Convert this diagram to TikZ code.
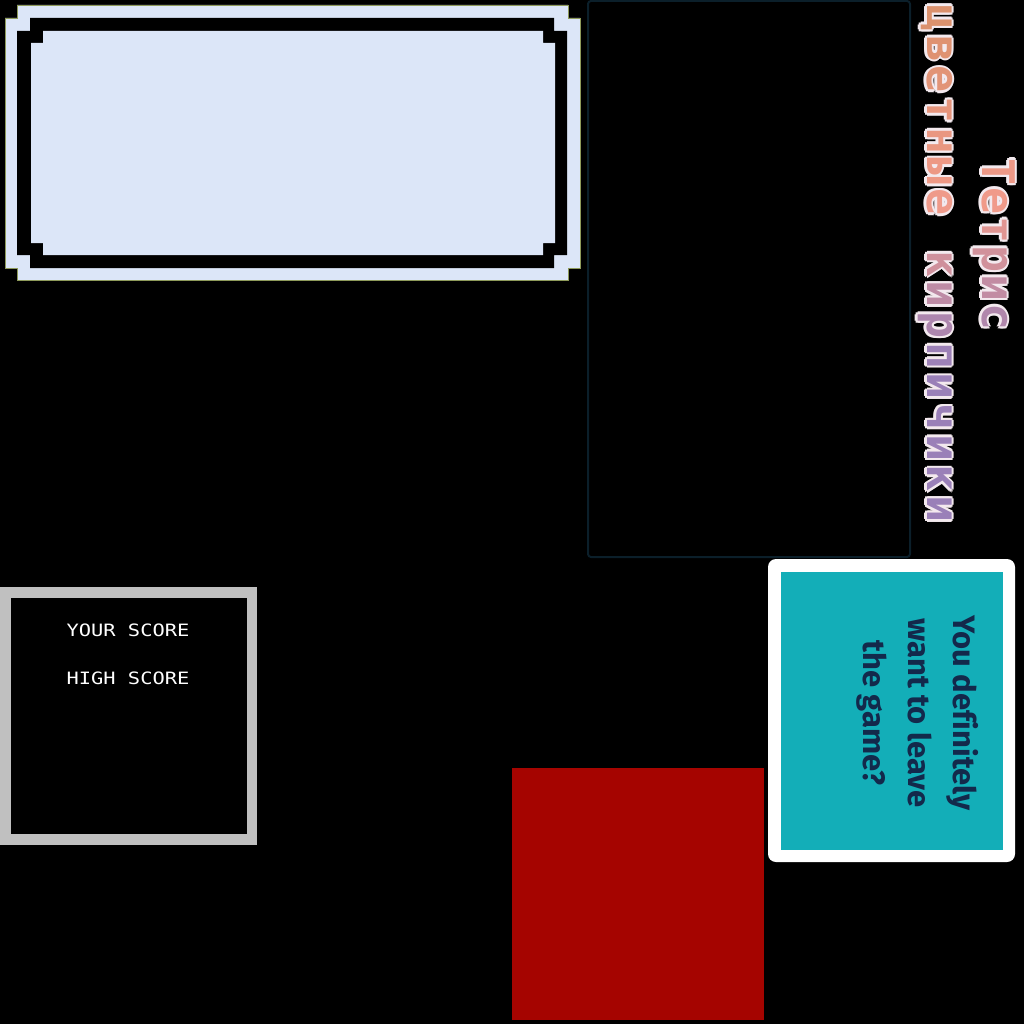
\documentclass[tikz,border=0pt]{standalone}
\usepackage{fontspec}
\setmainfont{DejaVu Sans}
\newfontfamily\pixelfont{DejaVu Sans Mono}[BoldFont={DejaVu Sans Mono Bold}]
\newfontfamily\dialogfont{Fira Sans}[BoldFont={Fira Sans Bold},Ligatures=NoCommon]
\usetikzlibrary{positioning,calc}
\definecolor{framelight}{HTML}{DCE6F8}
\definecolor{frameedge}{HTML}{8E9A5A}
\definecolor{panelline}{HTML}{0B1F2A}
\definecolor{scoregray}{HTML}{C0C0C0}
\definecolor{dialogteal}{HTML}{13AEB8}
\definecolor{dialogtext}{HTML}{13294B}
\definecolor{brickred}{HTML}{A50400}
\definecolor{torange}{HTML}{D9906A}
\definecolor{tpink}{HTML}{F09A8A}
\definecolor{tpurple}{HTML}{9A80B8}
\definecolor{halo}{HTML}{F3E9EE}
\tikzset{
  % letters of the title
  titleletter/.style={
    rotate=-90, anchor=base, inner sep=0pt,
    font=\pixelfont\bfseries\fontsize{45}{45}\selectfont},
  % score labels
  scorelabel/.style={
    text=white, inner sep=0pt, xscale=1.2,
    font=\pixelfont\fontsize{17}{17}\selectfont},
}
% #1 fill, #2 x0, #3 y0, #4 x1, #5 y1, #6 notch
\def\notchbox#1#2#3#4#5#6{%
\fill[#1] ({#2+#6},#3) -- ({#4-#6},#3) -- ({#4-#6},{#3+#6}) -- (#4,{#3+#6})
  -- (#4,{#5-#6}) -- ({#4-#6},{#5-#6}) -- ({#4-#6},#5) -- ({#2+#6},#5)
  -- ({#2+#6},{#5-#6}) -- (#2,{#5-#6}) -- (#2,{#3+#6}) -- ({#2+#6},{#3+#6}) -- cycle;
}
% #1 x of baseline, #2 y, #3 letter, #4 name
\def\titlechar#1#2#3#4{%
\pgfmathtruncatemacro\pa{min(100,#2/2)}
\pgfmathtruncatemacro\pb{max(0,min(100,(#2-200)/1.6))}
\colorlet{lettercol}{tpink!\pa!torange}
\colorlet{lettercol}{tpurple!\pb!lettercol}
\foreach \dx/\dy in {2.5/0,-2.5/0,0/2.5,0/-2.5,1.8/1.8,-1.8/1.8,1.8/-1.8,-1.8/-1.8}
  \node[titleletter, text=halo] at ({#1+\dx},{#2+\dy}) {#3};
\node[titleletter, text=lettercol] (#4) at (#1,#2) {#3};
}
\begin{document}
\begin{tikzpicture}[x=1pt,y=-1pt]
  \fill[black] (0,0) rectangle (1024,1024);
  \useasboundingbox (0,0) rectangle (1024,1024);
  % top left frame
  \draw[frameedge, fill=framelight, line width=0.8pt] (17,5) -- (568,5) -- (568,18) -- (580,18)
    -- (580,268) -- (568,268) -- (568,280) -- (17,280) -- (17,268) -- (5,268)
    -- (5,18) -- (17,18) -- cycle;
  \notchbox{black}{17}{18}{567}{268}{13}
  \notchbox{framelight}{31}{31}{555}{255}{12}
  % board panel
  \draw[panelline, line width=2pt, rounded corners=3pt, fill=black] (588,1) rectangle (910,557);
  % title
  \foreach \ch [count=\i] in {Т,е,т,р,и,с}{
    \pgfmathsetmacro\py{172+29*(\i-1)}
    \titlechar{982}{\py}{\ch}{top\i}
  }
  \foreach \ch [count=\i] in {ц,в,е,т,н,ы,е,{},к,и,р,п,и,ч,и,к,и}{
    \pgfmathsetmacro\py{18+30.7*(\i-1)}
    \titlechar{927}{\py}{\ch}{sub\i}
  }
  % score box
  \fill[scoregray] (0,587) rectangle (257,845);
  \fill[black] (11,598) rectangle (247,834);
  \node[scorelabel] (yourscore) at (128,630) {YOUR SCORE};
  \node[scorelabel] (highscore) at (128,678) {HIGH SCORE};
  % quit dialog
  \fill[white, rounded corners=8pt] (768,559) rectangle (1015,862);
  \fill[dialogteal] (781,572) rectangle (1003,850);
  \node[rotate=-90, align=center, text=dialogtext,
    font=\dialogfont\bfseries\fontsize{31}{45}\selectfont] (quit) at (918,713)
    {You definitely\\want to leave\\the game?};
  % red brick
  \fill[brickred] (512,768) rectangle (764,1020);
\end{tikzpicture}
\end{document}
